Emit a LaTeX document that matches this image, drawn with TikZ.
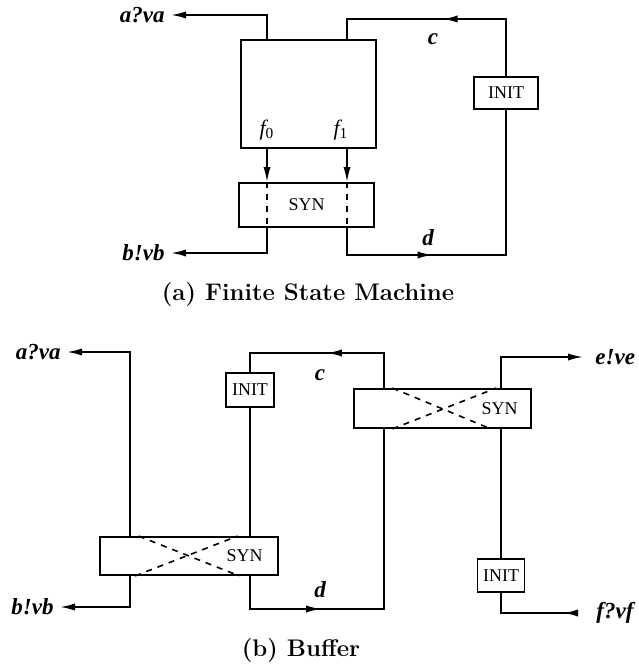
\documentclass[tikz,border=0pt]{standalone}
\usepackage{fontspec}
\newfontfamily\timesfont{Liberation Serif}
\usetikzlibrary{arrows.meta, positioning, calc, decorations.markings}

\begin{document}
\begin{tikzpicture}[x=0.5pt, y=-0.5pt,
    box/.style={draw, line width=0.9pt, inner sep=0pt},
    tag/.style={font=\timesfont\fontsize{9}{10}\selectfont},
    chan/.style={font=\timesfont\bfseries\itshape\fontsize{11.5}{13}\selectfont, inner sep=1pt},
    fsub/.style={font=\timesfont\itshape\fontsize{11}{13}\selectfont},
    captxt/.style={font=\fontsize{12}{14}\selectfont\bfseries},
    conn/.style={draw, line width=0.9pt},
    outarr/.style={conn, -{Latex[length=7.5pt,width=3.6pt]}},
    backarr/.style={conn, -{Latex[length=7.5pt,width=3.6pt,reversed]}},
    midarr/.style={conn, postaction={decorate},
        decoration={markings, mark=at position #1 with {\arrow{Latex[length=7.5pt,width=3.6pt]}}}},
    synx/.style={draw, dashed, line width=0.8pt}
]
    \useasboundingbox (0,0) rectangle (638,672);

    % (a) finite state machine
    \coordinate (k0) at (267,0);
    \coordinate (k1) at (347,0);
    \coordinate (rowc) at (0,19);
    \coordinate (rowd) at (0,255);

    \node[box, minimum width=67.5pt, minimum height=54pt] (fsm) at (308.5,94) {};
    \node[box, minimum width=67.5pt, minimum height=22pt, tag] (syna) at (306.5,205) {SYN};
    \node[box, minimum width=32pt, minimum height=16pt, tag] (inita) at (506,93) {INIT};

    \node[fsub] (f0) at (267,130) {f\textsubscript{\upshape 0}};
    \node[fsub] (f1) at (341,130) {f\textsubscript{\upshape 1}};

    \coordinate (ta) at (171,15);
    \node[chan, left=2pt of ta] (ava) {a?va};
    \draw[outarr] (fsm.north -| k0) |- (ta);
    \coordinate (tb) at (171,253);
    \node[chan, left=2pt of tb] (bvb) {b!vb};
    \draw[outarr] (syna.south -| k0) |- (tb);

    \draw[outarr] (fsm.south -| k0) -- (syna.north -| k0);
    \draw[outarr] (fsm.south -| k1) -- (syna.north -| k1);
    \draw[synx] (syna.north -| k0) -- (syna.south -| k0);
    \draw[synx] (syna.north -| k1) -- (syna.south -| k1);

    \draw[midarr=0.51] (inita.north) -- (inita.north |- rowc) -| (fsm.north -| k1);
    \node[chan] (ca) at (433,39) {c};
    \draw[midarr=0.34] (syna.south -| k1) |- (inita.south |- rowd) -- (inita.south);
    \node[chan] (da) at (428,238) {d};

    \node[captxt] (capa) at (308,295) {(a) Finite State Machine};

    % (b) buffer
    \coordinate (m0) at (130,0);
    \coordinate (m1) at (250,0);
    \coordinate (m2) at (384,0);
    \coordinate (m3) at (501,0);
    \coordinate (rowc2) at (0,353);
    \coordinate (rowd2) at (0,609);

    \node[box, minimum width=89pt, minimum height=19pt] (sb1) at (189,556) {};
    \node[box, minimum width=88.5pt, minimum height=19.5pt] (sb2) at (442.5,408.5) {};
    \node[box, minimum width=24pt, minimum height=17pt, tag] (ib1) at (250,390) {INIT};
    \node[box, minimum width=23.5pt, minimum height=16.5pt, tag] (ib2) at (501,575.5) {INIT};

    \draw[synx] ($(sb1.north west)!.22!(sb1.north east)$) -- ($(sb1.south west)!.78!(sb1.south east)$);
    \draw[synx] ($(sb1.south west)!.2!(sb1.south east)$) -- ($(sb1.north west)!.77!(sb1.north east)$);
    \node[tag] (sb1t) at ($(sb1.west)!.81!(sb1.east)$) {SYN};
    \draw[synx] ($(sb2.north west)!.22!(sb2.north east)$) -- ($(sb2.south west)!.77!(sb2.south east)$);
    \draw[synx] ($(sb2.south west)!.22!(sb2.south east)$) -- ($(sb2.north west)!.8!(sb2.north east)$);
    \node[tag] (sb2t) at ($(sb2.west)!.82!(sb2.east)$) {SYN};

    \coordinate (ta2) at (67,352);
    \node[chan, left=2pt of ta2] (ava2) {a?va};
    \draw[outarr] (sb1.north -| m0) |- (ta2);
    \coordinate (tb2) at (60,607);
    \node[chan, left=2pt of tb2] (bvb2) {b!vb};
    \draw[outarr] (sb1.south -| m0) |- (tb2);

    \draw[midarr=0.49] (sb2.north -| m2) -- (m2 |- rowc2) -| (ib1.north);
    \node[chan] (c2) at (320,375) {c};
    \draw[conn] (ib1.south) -- (sb1.north -| m1);
    \draw[midarr=0.30] (sb1.south -| m1) |- (m2 |- rowd2) -- (sb2.south -| m2);
    \node[chan] (d2) at (320,590) {d};

    \coordinate (te) at (583,357);
    \node[chan, right=5pt of te] (eve) {e!ve};
    \draw[outarr] (sb2.north -| m3) |- (te);
    \draw[conn] (sb2.south -| m3) -- (ib2.north);
    \coordinate (tf) at (578,613);
    \node[chan, right=8pt of tf] (fvf) {f?vf};
    \draw[backarr] (ib2.south) |- (tf);

    \node[captxt] (capb) at (301,651) {(b) Buffer};
\end{tikzpicture}
\end{document}
